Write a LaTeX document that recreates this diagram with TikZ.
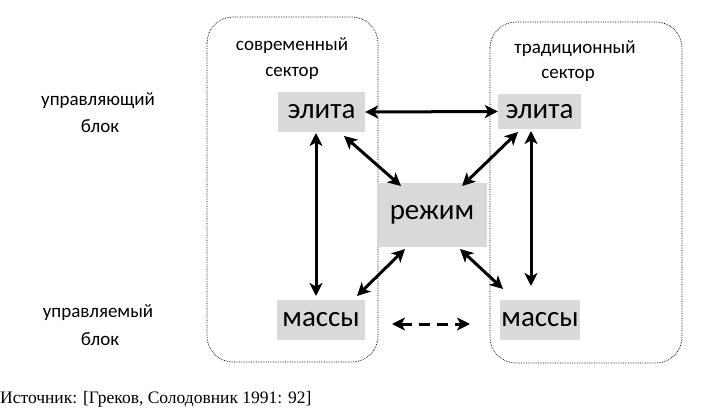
\documentclass[tikz,border=0pt]{standalone}
\usepackage{fontspec}
\setmainfont{Carlito}
\newfontfamily\srcfont{Liberation Serif}
\usetikzlibrary{arrows.meta}
\begin{document}
\begin{tikzpicture}[x=1pt,y=-1pt,
  gbox/.style={fill=black!15, inner sep=0pt, font=\fontsize{29}{32}\selectfont},
  lbl/.style={font=\fontsize{19}{22}\selectfont, inner sep=0pt},
  sector/.style={draw, densely dotted, line width=0.7pt, rounded corners=26pt},
  arr/.style={line width=3pt, {Stealth[length=13pt,width=13pt,inset=3.5pt]}-{Stealth[length=13pt,width=13pt,inset=3.5pt]}},
]
\useasboundingbox (0,0) rectangle (720,409);
\draw[sector] (207,17) rectangle (378,362);
\draw[sector] (490,22) rectangle (682,363);
\node[lbl] (s1a) at (292,46) {современный};
\node[lbl] (s1b) at (292,73) {сектор};
\node[lbl] (s2a) at (575,49) {традиционный};
\node[lbl] (s2b) at (568,75) {сектор};
\node[lbl] (u1a) at (98,101) {управляющий};
\node[lbl] (u1b) at (100,126) {блок};
\node[lbl] (u2a) at (98,313) {управляемый};
\node[lbl] (u2b) at (100,339) {блок};
\node[gbox, minimum width=87pt, minimum height=40pt] (e1) at (321.5,112) {элита};
\node[gbox, minimum width=83pt, minimum height=35pt] (e2) at (539.5,111.5) {элита};
\node[gbox, minimum width=110pt, minimum height=64pt] (r) at (432,215) {режим};
\node[gbox, minimum width=88pt, minimum height=40pt] (m1) at (321,320) {массы};
\node[gbox, minimum width=80pt, minimum height=40pt] (m2) at (540,320) {массы};
\draw[arr] (e1.east) -- (e2.west);
\draw[arr] (316,133) -- (316,296);
\draw[arr] (531,131) -- (531,286);
\draw[arr] (344,136) -- (401,186);
\draw[arr] (518,132) -- (462,186);
\draw[arr] (405,249) -- (357,296);
\draw[arr] (460,249) -- (503,289);
\draw[line width=3pt, dash pattern=on 11pt off 7pt, {Stealth[length=13pt,width=13pt,inset=3.5pt]}-{Stealth[length=13pt,width=13pt,inset=3.5pt]}] (392,324) -- (470,324);
\node[anchor=west, inner sep=0pt, font=\srcfont\fontsize{17.5}{20}\selectfont] (src) at (0,399) {Источник: [Греков, Солодовник 1991: 92]};
\end{tikzpicture}
\end{document}
